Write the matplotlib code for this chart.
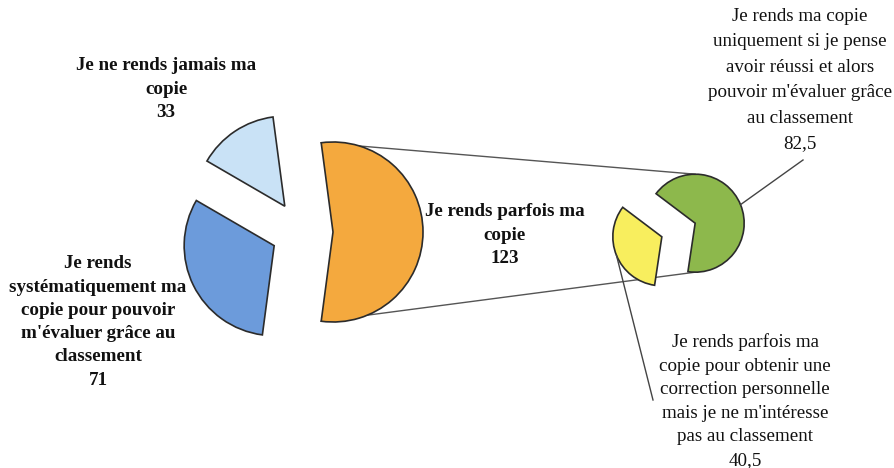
import numpy as np
import matplotlib
matplotlib.use("Agg")
import matplotlib.pyplot as plt
from matplotlib.patches import Wedge

# ---- data ----
main_labels = ["Je rends parfois ma\ncopie",
               "Je ne rends jamais ma\ncopie",
               "Je rends\nsystématiquement ma\ncopie pour pouvoir\nm'évaluer grâce au\nclassement"]
main_values = [123, 33, 71]
sub_labels = ["Je rends ma copie\nuniquement si je pense\navoir réussi et alors\npouvoir m'évaluer grâce\nau classement",
              "Je rends parfois ma\ncopie pour obtenir une\ncorrection personnelle\nmais je ne m'intéresse\npas au classement"]
sub_values = [82.5, 40.5]

main_colors = ["#F4A93E", "#C9E2F6", "#6C9BDB"]
sub_colors = ["#8DB84C", "#F8EE5E"]
edge = "#2b2b2b"

W, H = 894, 468
fig = plt.figure(figsize=(W / 100, H / 100), dpi=100)
ax = fig.add_axes([0, 0, 1, 1])
ax.set_xlim(0, W)
ax.set_ylim(0, H)
ax.axis("off")

serif = ["Liberation Serif", "DejaVu Serif"]


def fmt(v):
    s = f"{v:g}"
    return s.replace(".", ",")


def draw_pie(values, colors, center, radius, start, explode):
    total = sum(values)
    a = start
    out = []
    for v, c in zip(values, colors):
        span = v / total * 360.0
        mid = np.deg2rad(a + span / 2)
        cx = center[0] + explode * np.cos(mid)
        cy = center[1] + explode * np.sin(mid)
        w = Wedge((cx, cy), radius, a, a + span, facecolor=c,
                  edgecolor=edge, linewidth=1.2, zorder=3)
        ax.add_patch(w)
        out.append(((cx, cy), a, a + span, mid))
        a += span
    return out


# main pie
main_center = (302, 236)
main_r = 90
main_start = -main_values[0] / sum(main_values) * 180
mw = draw_pie(main_values, main_colors, main_center, main_r, main_start, 31)

# secondary pie
sub_center = (678.5, 238)
sub_r = 49
sub_start = -98.5
sw = draw_pie(sub_values, sub_colors, sub_center, sub_r, sub_start, 18)

# connector lines
(ocx, ocy), oa1, oa2, _ = mw[0]
(gcx, gcy), _, _, _ = sw[0]
top0 = (ocx + main_r * np.cos(np.deg2rad(oa2)), ocy + main_r * np.sin(np.deg2rad(oa2)))
bot0 = (ocx + main_r * np.cos(np.deg2rad(oa1)), ocy + main_r * np.sin(np.deg2rad(oa1)))
ax.plot([top0[0], gcx], [top0[1], gcy + sub_r], color="#555555", lw=1.0, zorder=2)
ax.plot([bot0[0], gcx], [bot0[1], gcy - sub_r], color="#555555", lw=1.0, zorder=2)

# main labels (bold)
fs = 13.7
tc = "#111111"
ax.text(505, H - 235, main_labels[0] + "\n" + fmt(main_values[0]), ha="center", va="center",
        fontsize=fs, fontweight="bold", family=serif, color=tc, linespacing=1.48, zorder=5)
ax.text(166, H - 89, main_labels[1] + "\n" + fmt(main_values[1]), ha="center", va="center",
        fontsize=fs, fontweight="bold", family=serif, color=tc, linespacing=1.48, zorder=5)
ax.text(98, H - 322, main_labels[2] + "\n" + fmt(main_values[2]), ha="center", va="center",
        fontsize=fs, fontweight="bold", family=serif, color=tc, linespacing=1.48, zorder=5)

# secondary labels with leaders
(gx, gy), _, _, gmid = sw[0]
(yx, yy), _, _, ymid = sw[1]
ax.plot([gx + sub_r * np.cos(gmid), 803], [gy + sub_r * np.sin(gmid), H - 160],
        color="#444444", lw=1.0, zorder=4)
ax.plot([yx + sub_r * np.cos(ymid), 653], [yy + sub_r * np.sin(ymid), H - 400],
        color="#444444", lw=1.0, zorder=4)
ax.text(800, H - 80, sub_labels[0] + "\n" + fmt(sub_values[0]), ha="center", va="center",
        fontsize=fs, family=serif, color=tc, linespacing=1.65, zorder=5)
ax.text(745, H - 401, sub_labels[1] + "\n" + fmt(sub_values[1]), ha="center", va="center",
        fontsize=fs, family=serif, color=tc, linespacing=1.5, zorder=5)

fig.savefig("out.png", dpi=100)
